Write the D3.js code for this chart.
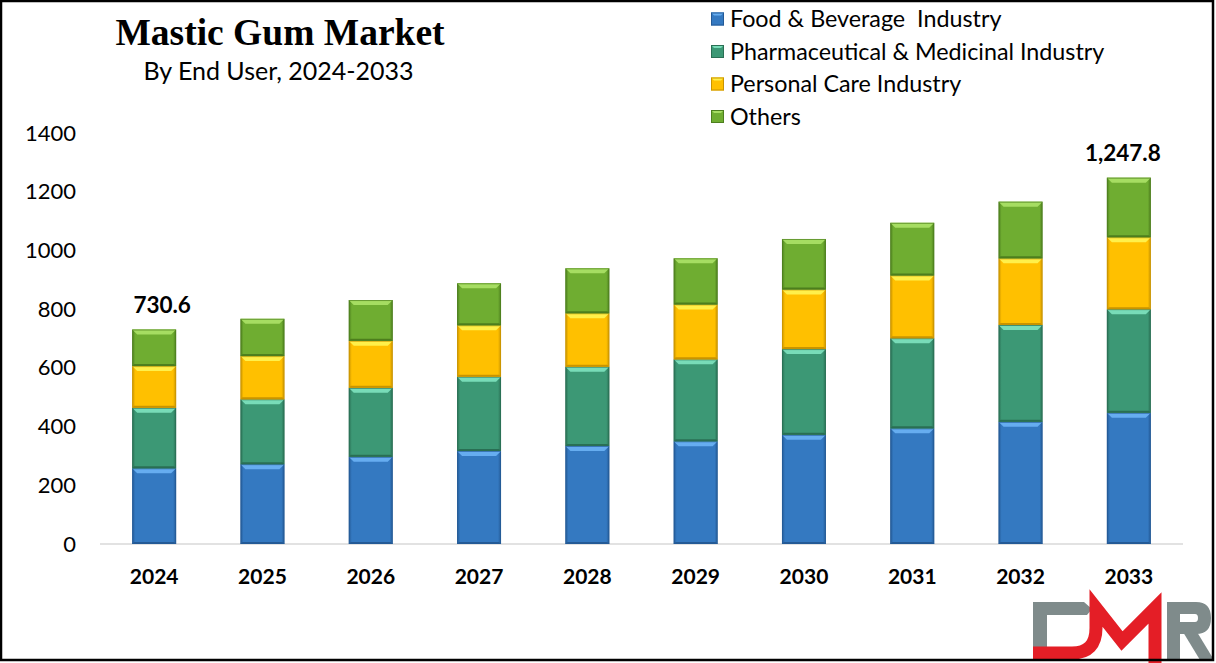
<!DOCTYPE html>
<html>
<head>
<meta charset="utf-8">
<script src="https://cdn.jsdelivr.net/npm/d3@7"></script>
<style>
  html, body { margin: 0; padding: 0; background: #fff; }
  svg { display: block; }
</style>
</head>
<body>
<svg id="chart" width="1216" height="663"></svg>
<script>
// ---------- data ----------
const years = ["2024", "2025", "2026", "2027", "2028", "2029", "2030", "2031", "2032", "2033"];
const foodBeverage = [258, 272, 297, 317, 334, 350, 372, 394, 416, 447];
const pharmaceutical = [206, 221, 235, 253, 270, 279, 292, 307, 330, 353];
const personalCare = [142, 147, 160, 175, 182, 187, 203, 214, 227, 245];
const others = [124.6, 127, 139, 143, 153, 157, 172, 179, 193, 202.8];
const seriesNames = ["Food & Beverage  Industry", "Pharmaceutical & Medicinal Industry", "Personal Care Industry", "Others"];
const totalLabels = [{ year: "2024", text: "730.6", value: 730.6 }, { year: "2033", text: "1,247.8", value: 1247.8 }];
const yTicks = [0, 200, 400, 600, 800, 1000, 1200, 1400];

// ---------- styles ----------
const colors = [
  { base: "#3479c1", light: "#66adf0", dark: "#245a96" },
  { base: "#3c9875", light: "#78dcb8", dark: "#2a6f54" },
  { base: "#ffc000", light: "#fff04a", dark: "#c99400" },
  { base: "#6fad31", light: "#a6dd62", dark: "#4d7f1e" }
];
const labelShift = { "2024": 8, "2033": -6 }; // manual label nudges (layout only)
const sansFont = "Lato, 'Open Sans', 'Liberation Sans', sans-serif";

const svg = d3.select("#chart");
const W = 1216, H = 663;
svg.append("rect").attr("width", W).attr("height", H).attr("fill", "#fff");

const x = d3.scaleBand().domain(years).range([100, 1183]).paddingInner(0.594).paddingOuter(0.297);
const y = d3.scaleLinear().domain([0, 1400]).range([544, 133]);

// gradients
const defs = svg.append("defs");
colors.forEach((c, i) => {
  const g = defs.append("linearGradient").attr("id", "hg" + i).attr("x1", "0").attr("x2", "1").attr("y1", "0").attr("y2", "0");
  g.append("stop").attr("offset", "0").attr("stop-color", c.dark);
  g.append("stop").attr("offset", "0.07").attr("stop-color", c.base);
  g.append("stop").attr("offset", "0.93").attr("stop-color", c.base);
  g.append("stop").attr("offset", "1").attr("stop-color", c.dark);
});

// axis baseline
svg.append("line").attr("x1", 100).attr("x2", 1183).attr("y1", y(0)).attr("y2", y(0))
  .attr("stroke", "#d9d9d9").attr("stroke-width", 1.5);

// stacked data
const table = years.map((yr, i) => ({ year: yr, s0: foodBeverage[i], s1: pharmaceutical[i], s2: personalCare[i], s3: others[i] }));
const stack = d3.stack().keys(["s0", "s1", "s2", "s3"])(table);

const layers = svg.append("g").selectAll("g").data(stack).join("g");
layers.each(function (layer, li) {
  const c = colors[li];
  const g = d3.select(this);
  layer.forEach(d => {
    const x0 = x(d.data.year), bw = x.bandwidth();
    const yTop = y(d[1]), yBot = y(d[0]);
    const h = yBot - yTop;
    const seg = g.append("g");
    seg.append("rect").attr("x", x0).attr("y", yTop).attr("width", bw).attr("height", h)
      .attr("fill", `url(#hg${li})`);
    const b = 5;
    seg.append("path")
      .attr("d", `M${x0},${yTop} L${x0 + bw},${yTop} L${x0 + bw - b},${yTop + b} L${x0 + b},${yTop + b} Z`)
      .attr("fill", c.light);
    seg.append("path")
      .attr("d", `M${x0},${yBot} L${x0 + bw},${yBot} L${x0 + bw - 2},${yBot - 2} L${x0 + 2},${yBot - 2} Z`)
      .attr("fill", c.dark);
    seg.append("rect").attr("x", x0 + 0.5).attr("y", yTop + 0.5).attr("width", bw - 1).attr("height", h - 1)
      .attr("fill", "none").attr("stroke", c.dark).attr("stroke-width", 1).attr("stroke-opacity", 0.7);
  });
});

// y axis
const yAxis = svg.append("g").attr("transform", "translate(76,0)")
  .call(d3.axisLeft(y).tickValues(yTicks).tickSize(0).tickPadding(0).tickFormat(d3.format("d")));
yAxis.select(".domain").remove();
yAxis.selectAll("text").attr("font-family", sansFont).attr("font-size", 22).attr("fill", "#000");

// x axis
const xAxis = svg.append("g").attr("transform", `translate(0,${y(0)})`)
  .call(d3.axisBottom(x).tickSize(0).tickPadding(25));
xAxis.select(".domain").remove();
xAxis.selectAll("text").attr("font-family", sansFont).attr("font-size", 21).attr("font-weight", "bold").attr("fill", "#000");

// total labels
svg.append("g").selectAll("text").data(totalLabels).join("text")
  .attr("x", d => x(d.year) + x.bandwidth() / 2 + (labelShift[d.year] || 0))
  .attr("y", d => y(d.value) - 16.5)
  .attr("text-anchor", "middle")
  .attr("font-family", sansFont).attr("font-size", 22.5).attr("font-weight", "bold").attr("fill", "#000")
  .text(d => d.text);

// title
svg.append("text").attr("x", 280).attr("y", 45).attr("text-anchor", "middle")
  .attr("font-family", "'Liberation Serif', 'Times New Roman', serif").attr("font-weight", "bold").attr("font-size", 37.5)
  .text("Mastic Gum Market");
svg.append("text").attr("x", 278.5).attr("y", 80).attr("text-anchor", "middle")
  .attr("font-family", sansFont).attr("font-size", 25)
  .text("By End User, 2024-2033");

// legend
const legend = svg.append("g");
seriesNames.forEach((name, i) => {
  const cy = 19 + i * 32.5;
  const c = colors[i];
  legend.append("rect").attr("x", 711).attr("y", cy - 6.5).attr("width", 13).attr("height", 13).attr("fill", `url(#hg${i})`);
  legend.append("path").attr("d", `M711,${cy - 6.5} h13 l-3,3 h-7 Z`).attr("fill", c.light);
  legend.append("rect").attr("x", 711.5).attr("y", cy - 6).attr("width", 12).attr("height", 12).attr("fill", "none").attr("stroke", c.dark).attr("stroke-width", 1);
  legend.append("text").attr("x", 730).attr("y", cy).attr("dy", "0.35em")
    .attr("font-family", sansFont).attr("font-size", 23.3).attr("fill", "#000")
    .attr("xml:space", "preserve").style("white-space", "pre")
    .text(name);
});

// logo (decorative)
const logo = svg.append("g");
logo.append("path")
  .attr("d", "M1033,602 H1084 L1092,609 L1087,615 H1047 V647 H1033 Z")
  .attr("fill", "#7f8b8b");
logo.append("path")
  .attr("d", "M1033,653 H1072 Q1096,653 1096,628 V608 L1122,641 L1155,608 V663")
  .attr("fill", "none").attr("stroke", "#e41e26").attr("stroke-width", 13).attr("stroke-linejoin", "miter");
logo.append("path")
  .attr("d", "M1167,602 H1196 Q1211,602 1211,618 Q1211,634 1196,634 H1180 V661 H1167 Z M1180,614 V622 H1195 Q1198,622 1198,618 Q1198,614 1195,614 Z")
  .attr("fill", "#7f8b8b").attr("fill-rule", "evenodd");
logo.append("path")
  .attr("d", "M1183,632 H1197 L1214,660 H1200 Z")
  .attr("fill", "#7f8b8b");

// border
svg.append("rect").attr("x", 1).attr("y", 1).attr("width", 1212).attr("height", 659)
  .attr("fill", "none").attr("stroke", "#000").attr("stroke-width", 2.5);
</script>
</body>
</html>
